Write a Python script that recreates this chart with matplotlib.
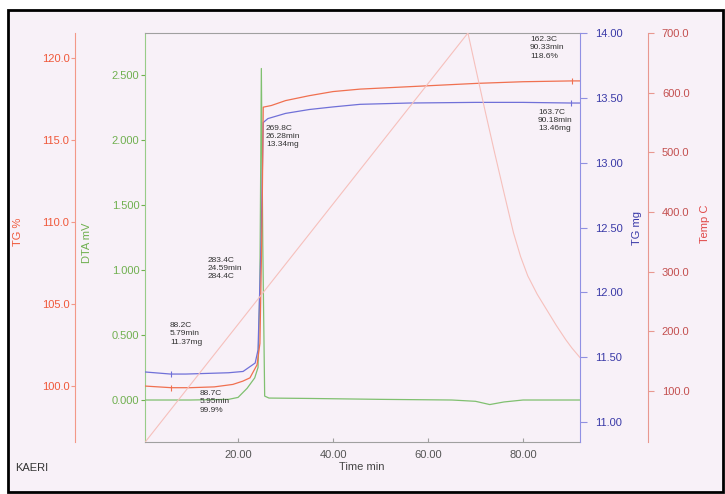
import matplotlib.pyplot as plt
from matplotlib.patches import Rectangle
from matplotlib.ticker import FormatStrFormatter

plt.rcParams["font.family"] = ["Liberation Sans", "DejaVu Sans"]

# ---------------------------------------------------------------------------
# Data (time in min)
# ---------------------------------------------------------------------------
temp_t = [0.4, 68.4, 70.0, 72.0, 74.0, 76.0, 78.0, 79.5, 81.0, 83.0, 85.0,
          87.0, 89.0, 90.3, 92.0]
temp_c = [14.0, 700.0, 642.0, 570.0, 500.0, 432.0, 365.0, 325.0, 293.0, 262.0, 236.0,
          210.0, 186.0, 172.0, 156.0]

tgp_t = [0.4, 5.95, 9.9, 15.0, 18.9, 21.0, 22.5, 24.0, 24.6, 25.05, 25.3,
         27.0, 30.0, 35.0, 40.0, 45.7, 56.2, 70.3, 80.0, 90.33, 92.0]
tgp_v = [100.0, 99.9, 99.9, 99.95, 100.1, 100.3, 100.5, 101.3, 102.6, 110.0, 117.0,
         117.1, 117.4, 117.7, 117.95, 118.1, 118.25, 118.45, 118.55, 118.6, 118.6]

tgm_t = [0.4, 5.79, 9.0, 18.0, 21.05, 23.6, 24.2, 24.85, 25.3,
         26.28, 30.0, 35.0, 40.0, 45.7, 56.0, 70.0, 80.0, 90.18, 92.0]
tgm_v = [11.386, 11.37, 11.37, 11.38, 11.39, 11.455, 11.556, 12.4, 13.31,
         13.34, 13.38, 13.41, 13.43, 13.45, 13.46, 13.465, 13.465, 13.46, 13.46]

dta_t = [0.4, 10.0, 18.0, 20.0, 21.9, 23.5, 24.2, 24.6, 24.9, 25.2, 25.6,
         26.5, 35.0, 50.0, 65.0, 70.0, 73.0, 76.0, 80.0, 92.0]
dta_v = [0.0, 0.0, 0.005, 0.02, 0.09, 0.17, 0.25, 0.9, 2.55, 1.2, 0.03,
         0.015, 0.012, 0.005, 0.0, -0.01, -0.035, -0.015, 0.0, 0.0]

time_ticks = [20, 40, 60, 80]
dta_ticks = [0.0, 0.5, 1.0, 1.5, 2.0, 2.5]
tgm_ticks = [11.0, 11.5, 12.0, 12.5, 13.0, 13.5, 14.0]
tgp_ticks = [100, 105, 110, 115, 120]
temp_ticks = [100, 200, 300, 400, 500, 600, 700]

# annotation points: (text, x px, y px)
notes = [
    ("283.4C\n24.59min\n284.4C", 208, 257),
    ("88.2C\n5.79min\n11.37mg", 170, 322),
    ("88.7C\n5.95min\n99.9%", 200, 390),
    ("269.8C\n26.28min\n13.34mg", 266, 125),
    ("162.3C\n90.33min\n118.6%", 530, 36),
    ("163.7C\n90.18min\n13.46mg", 538, 109),
]

# ---------------------------------------------------------------------------
# Colours
# ---------------------------------------------------------------------------
BG = "#f8f1f8"
RED = "#f0583a"
RED_LINE = "#f07050"
GREEN = "#70b050"
GREEN_LINE = "#80c070"
BLUE = "#3a3aa8"
BLUE_LINE = "#7070d8"
TEMP = "#c45050"
TEMP_LINE = "#f6c0bc"
GRAY = "#a0a0a0"

W, H = 725, 494


def fx(px):
    return px / W


def fy(py):
    return 1 - py / H


fig = plt.figure(figsize=(W / 100, H / 100), dpi=100)
fig.patch.set_facecolor("white")
fig.add_artist(Rectangle((fx(8), fy(492)), fx(715), 482 / H, transform=fig.transFigure,
                         facecolor=BG, edgecolor="black", lw=2, zorder=-10))

ax = fig.add_axes([fx(145), fy(442), fx(435), 409 / H])
ax.patch.set_alpha(0)
ax_tgm = ax.twinx()
ax_tgp = ax.twinx()
ax_temp = ax.twinx()

# temperature programme (drawn first, behind everything)
ax_temp.plot(temp_t, temp_c, color=TEMP_LINE, lw=0.8, zorder=1)
ax_tgp.plot(tgp_t, tgp_v, color=RED_LINE, lw=0.9)
ax_tgm.plot(tgm_t, tgm_v, color=BLUE_LINE, lw=0.9)
ax.plot(dta_t, dta_v, color=GREEN_LINE, lw=0.9, zorder=3)

# little event ticks on the curves
ax_tgm.plot([tgm_t[1], tgm_t[-2]], [tgm_v[1], tgm_v[-2]], ls="none", marker="|",
            ms=4, mew=0.8, color=BLUE_LINE)
ax_tgp.plot([tgp_t[1], tgp_t[-2]], [tgp_v[1], tgp_v[-2]], ls="none", marker="|",
            ms=4, mew=0.8, color=RED_LINE)

ax.set_xlim(0.4, 92.0)
ax.set_ylim(-0.323, 2.823)
ax_tgm.set_ylim(10.846, 14.0)
ax_tgp.set_ylim(96.59, 121.52)
ax_temp.set_ylim(14.5, 700.0)

# x axis
ax.set_xticks(time_ticks)
ax.xaxis.set_major_formatter(FormatStrFormatter("%.2f"))
ax.tick_params(axis="x", direction="in", length=3, color=GRAY, labelsize=8,
               labelcolor="#555555", pad=6)

# DTA (left, on plot frame)
ax.set_yticks(dta_ticks)
ax.yaxis.set_major_formatter(FormatStrFormatter("%.3f"))
ax.tick_params(axis="y", direction="out", length=3, color=GREEN, labelsize=8,
               labelcolor=GREEN, pad=1)
ax.spines["left"].set_color("#98cc88")
ax.spines["top"].set_color(GRAY)
ax.spines["bottom"].set_color(GRAY)
ax.spines["right"].set_visible(False)

# TG mg (right, on plot frame)
ax_tgm.set_yticks(tgm_ticks)
ax_tgm.yaxis.set_major_formatter(FormatStrFormatter("%.2f"))
ax_tgm.tick_params(axis="y", direction="out", length=5, color="#9090e0",
                   labelsize=8, labelcolor=BLUE, pad=6)
ax_tgm.spines["right"].set_color("#9090e4")
for s in ("left", "top", "bottom"):
    ax_tgm.spines[s].set_visible(False)

# TG % (left, offset)
ax_tgp.yaxis.tick_left()
ax_tgp.spines["left"].set_position(("axes", -70 / 435))
ax_tgp.spines["left"].set_color("#f39888")
for s in ("right", "top", "bottom"):
    ax_tgp.spines[s].set_visible(False)
ax_tgp.set_yticks(tgp_ticks)
ax_tgp.yaxis.set_major_formatter(FormatStrFormatter("%.1f"))
ax_tgp.tick_params(axis="y", direction="out", length=3, color="#f39888",
                   labelsize=8, labelcolor=RED, pad=1)

# Temperature (right, offset)
ax_temp.spines["right"].set_position(("axes", 503 / 435))
ax_temp.spines["right"].set_color("#e89890")
for s in ("left", "top", "bottom"):
    ax_temp.spines[s].set_visible(False)
ax_temp.set_yticks(temp_ticks)
ax_temp.yaxis.set_major_formatter(FormatStrFormatter("%.1f"))
ax_temp.tick_params(axis="y", direction="out", length=4, color="#e89890",
                    labelsize=8, labelcolor=TEMP, pad=6)

# axis titles
fig.text(fx(18), fy(232), "TG %", rotation=90, color=RED, fontsize=8,
         ha="center", va="center")
fig.text(fx(87), fy(243), "DTA mV", rotation=90, color=GREEN, fontsize=8,
         ha="center", va="center")
fig.text(fx(637), fy(228), "TG mg", rotation=90, color=BLUE, fontsize=8,
         ha="center", va="center")
fig.text(fx(705), fy(224), "Temp C", rotation=90, color="#e04848", fontsize=8,
         ha="center", va="center")
fig.text(fx(362), fy(467), "Time min", color="#444444", fontsize=8,
         ha="center", va="center")
fig.text(fx(15), fy(468), "KAERI", color="#333333", fontsize=8,
         ha="left", va="center")

for txt, px, py in notes:
    fig.text(fx(px), fy(py), txt, fontsize=6, color="#333333", ha="left",
             va="top", linespacing=1.25)

fig.savefig("out.png", dpi=100)
